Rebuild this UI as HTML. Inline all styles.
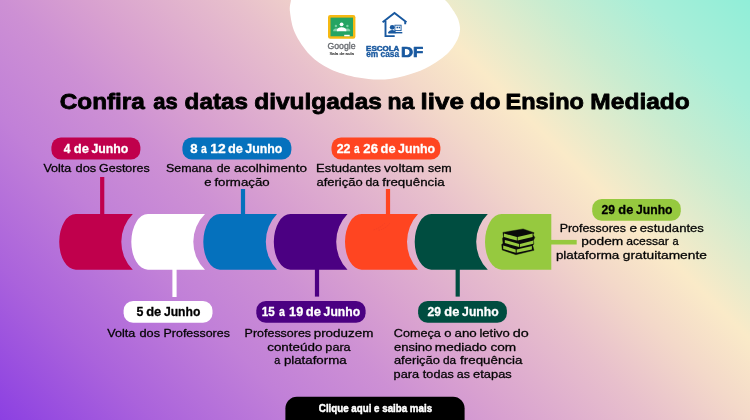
<!DOCTYPE html>
<html lang="pt-BR">
<head>
<meta charset="utf-8">
<title>Confira as datas divulgadas na live do Ensino Mediado</title>
<style>
html,body{margin:0;padding:0;}
body{width:750px;height:420px;overflow:hidden;background:#d8a0cc;}
.banner{position:relative;width:750px;height:420px;overflow:hidden;background:linear-gradient(45deg,#8c40e2 0%,#aa62dc 13%,#c180d8 26%,#cd90d4 36%,#d8a0d0 43%,#e8c0cc 56%,#f3d8c9 64%,#faeac8 71%,#c8ecd0 82.5%,#a8eed8 91%,#90eed8 100%);}
.banner svg{position:absolute;left:0;top:0;display:block;}
text{font-family:"Liberation Sans",sans-serif;white-space:pre;}
</style>
</head>
<body>
<div class="banner">
<svg width="750" height="420" viewBox="0 0 750 420">
<g id="logos">
<path d="M291 0C290.5 4.0 289.3 6.5 290 12C290.7 17.5 291.7 25.8 295 33C298.3 40.2 304.2 49.0 310 55C315.8 61.0 322.0 65.2 330 69C338.0 72.8 348.8 75.9 358 77.6C367.2 79.3 376.3 80.0 385 79.4C393.7 78.8 402.5 76.4 410 74.2C417.5 72.0 423.5 69.7 430 66C436.5 62.3 444.1 57.2 449 52C453.9 46.8 457.6 40.3 459.2 35C460.8 29.7 460.0 25.0 458.4 20C456.8 15.0 451.7 8.3 449.5 5C447.3 1.7 447.2 2.5 445 0Z" fill="#fff"/>
<g id="classroom">
<rect x="328" y="15.1" width="27.4" height="23.7" rx="2.2" fill="#f6b913"/>
<rect x="330.5" y="17.6" width="22.5" height="18.7" fill="#25a463"/>
<circle cx="335.9" cy="26" r="1.2" fill="#7fcfa6"/>
<circle cx="347.4" cy="26" r="1.2" fill="#7fcfa6"/>
<path d="M333.2 31.2v-1c0-1.1 1.8-1.7 2.7-1.7s2.7.6 2.7 1.7v1z" fill="#7fcfa6"/>
<path d="M344.7 31.2v-1c0-1.1 1.8-1.7 2.7-1.7s2.7.6 2.7 1.7v1z" fill="#7fcfa6"/>
<circle cx="341.6" cy="24.3" r="1.9" fill="#fff"/>
<path d="M336.9 31.2v-1.4c0-1.7 3.1-2.6 4.7-2.6s4.7.9 4.7 2.6v1.4z" fill="#fff"/>
<rect x="344.2" y="34.8" width="5.5" height="1.5" fill="#fff"/>
</g>
<g id="escola-em-casa" fill="#18589f">
<path d="M382.6 22.3L394.5 12.9L406.5 22.3M385.5 21v15.1h9.2M405.2 21.6v2.6" fill="none" stroke="#18589f" stroke-width="1.9" stroke-linejoin="miter"/>
<circle cx="392.2" cy="27.3" r="2.4"/>
<path d="M388.3 33.3v-.6c0-1.9 2.3-2.7 3.9-2.7s3.9.8 3.9 2.7v.6z"/>
<rect x="394.9" y="25.2" width="6.2" height="5.4" fill="none" stroke="#18589f" stroke-width="0.9"/>
<rect x="396.5" y="26.7" width="1.7" height="1.6"/>
<rect x="398.8" y="26.7" width="1.3" height="1.6"/>
<rect x="388.3" y="32" width="14" height="1.4"/>
</g>
<text x="327.41" y="48.90" font-size="8.6" font-weight="400" fill="#66696e" stroke="#66696e" stroke-width="0.3" stroke-linejoin="round" textLength="28.13" lengthAdjust="spacingAndGlyphs">Google</text>
<text x="329.45" y="55.30" font-size="4.3" font-weight="400" fill="#333" stroke="#333" stroke-width="0.15" stroke-linejoin="round" textLength="24.47" lengthAdjust="spacingAndGlyphs">Sala de aula</text>
<text x="366.07" y="50.90" font-size="6.5" font-weight="700" fill="#18589f" stroke="#18589f" stroke-width="0.45" stroke-linejoin="round" textLength="33.22" lengthAdjust="spacingAndGlyphs">ESCOLA</text>
<text x="366.22" y="56.60" font-size="8.4" font-weight="700" fill="#18589f" stroke="#18589f" stroke-width="0.3" stroke-linejoin="round" textLength="32.92" lengthAdjust="spacingAndGlyphs">em casa</text>
<text x="400.98" y="56.60" font-size="14.6" font-weight="700" fill="#18589f" stroke="#18589f" stroke-width="0.7" stroke-linejoin="round" textLength="22.33" lengthAdjust="spacingAndGlyphs">DF</text>
</g>
<g id="title">
<text y="108.60" font-size="22.3" font-weight="700" fill="#000" stroke="#000" stroke-width="0.8" stroke-linejoin="round"><tspan x="59.73" textLength="85.13" lengthAdjust="spacingAndGlyphs">Confira</tspan> <tspan x="153.24" textLength="24.49" lengthAdjust="spacingAndGlyphs">as</tspan> <tspan x="184.63" textLength="63.30" lengthAdjust="spacingAndGlyphs">datas</tspan> <tspan x="254.22" textLength="127.65" lengthAdjust="spacingAndGlyphs">divulgadas</tspan> <tspan x="387.49" textLength="26.84" lengthAdjust="spacingAndGlyphs">na</tspan> <tspan x="420.58" textLength="43.30" lengthAdjust="spacingAndGlyphs">live</tspan> <tspan x="470.10" textLength="30.54" lengthAdjust="spacingAndGlyphs">do</tspan> <tspan x="505.45" textLength="78.47" lengthAdjust="spacingAndGlyphs">Ensino</tspan> <tspan x="590.38" textLength="99.39" lengthAdjust="spacingAndGlyphs">Mediado</tspan></text>
</g>
<g id="timeline">
<rect x="100.10" y="177.0" width="4.2" height="37.50" fill="#c0004c"/>
<rect x="172.40" y="269.0" width="4.2" height="28.00" fill="#ffffff"/>
<rect x="240.90" y="189.0" width="4.2" height="25.50" fill="#0571bd"/>
<rect x="314.90" y="269.0" width="4.2" height="27.60" fill="#4b0082"/>
<rect x="385.90" y="189.0" width="4.2" height="25.50" fill="#ff4521"/>
<rect x="455.60" y="269.0" width="4.2" height="27.60" fill="#004d40"/>
<rect x="550" y="239.9" width="26.7" height="4.6" fill="#96c93f"/>
<path d="M75.80 214.0H132.80A39.47 39.47 0 0 0 132.80 269.7H75.80A16.6 27.849999999999994 0 0 1 75.80 214.0Z" fill="#c0004c"/>
<path d="M147.90 214.0H205.00A39.00 39.00 0 0 0 205.00 269.7H147.90A16.6 27.849999999999994 0 0 1 147.90 214.0Z" fill="#ffffff"/>
<path d="M219.90 214.0H277.00A40.23 40.23 0 0 0 277.00 269.7H219.90A16.6 27.849999999999994 0 0 1 219.90 214.0Z" fill="#0571bd"/>
<path d="M290.40 214.0H347.50A39.97 39.97 0 0 0 347.50 269.7H290.40A16.6 27.849999999999994 0 0 1 290.40 214.0Z" fill="#4b0082"/>
<path d="M361.60 214.0H418.00A40.76 40.76 0 0 0 418.00 269.7H361.60A16.6 27.849999999999994 0 0 1 361.60 214.0Z" fill="#ff4521"/>
<path d="M431.30 214.0H487.80A39.23 39.23 0 0 0 487.80 269.7H431.30A16.6 27.849999999999994 0 0 1 431.30 214.0Z" fill="#004d40"/>
<path d="M501.60 214.0H551.30V269.7H501.60A16.6 27.849999999999994 0 0 1 501.60 214.0Z" fill="#96c93f"/>
<path d="M373.6 229.9Q381 227.6 385.6 222.3M378.6 230.4Q386 228.6 389.6 223.4" fill="none" stroke="#e23a2e" stroke-width="0.5" stroke-dasharray="1.4 1" opacity="0.7"/>
<g id="books"><polygon points="502.9,232.4 523.1,228.9 534.1,232.7 533.1,234.8 534.8,237.4 533.5,240.3 533.8,243.9 532.7,245.6 534.0,250.3 515.9,254.7 502.2,250.0 501.7,244.6 503.0,243.2 502.5,238.4 503.5,236.8" fill="#0a0a0a" stroke="#0a0a0a" stroke-width="0.4" stroke-linejoin="round"/><polygon points="504.0,233.5 516.9,237.1 516.9,240.6 504.0,237.1" fill="#96c93f"/><polygon points="517.6,237.1 532.6,233.6 532.6,237.1 517.6,240.6" fill="#96c93f"/><polygon points="504.8,239.9 519.2,243.9 519.2,246.9 504.8,243.1" fill="#96c93f"/><polygon points="520.0,243.9 533.4,240.4 533.4,243.7 520.0,246.9" fill="#96c93f"/><polygon points="503.2,245.4 515.7,249.4 515.7,252.8 503.2,249.0" fill="#96c93f"/><polygon points="516.7,249.4 531.9,245.9 531.9,249.5 516.7,252.8" fill="#96c93f"/></g>
</g>
<g id="dates">
<rect x="51.4" y="137.5" width="89.0" height="22.0" rx="9.5" fill="#c0004c"/>
<text y="152.60" font-size="13.2" font-weight="700" fill="#fff" stroke="#fff" stroke-width="0.3" stroke-linejoin="round"><tspan x="63.81" textLength="6.72" lengthAdjust="spacingAndGlyphs">4</tspan> <tspan x="73.83" textLength="15.10" lengthAdjust="spacingAndGlyphs">de</tspan> <tspan x="91.40" textLength="36.93" lengthAdjust="spacingAndGlyphs">Junho</tspan></text>
<rect x="182.4" y="137.5" width="109.0" height="22.0" rx="9.5" fill="#0571bd"/>
<text y="152.60" font-size="13.2" font-weight="700" fill="#fff" stroke="#fff" stroke-width="0.3" stroke-linejoin="round"><tspan x="190.25" textLength="7.34" lengthAdjust="spacingAndGlyphs">8</tspan> <tspan x="200.94" textLength="5.77" lengthAdjust="spacingAndGlyphs">a</tspan> <tspan x="210.32" textLength="15.42" lengthAdjust="spacingAndGlyphs">12</tspan> <tspan x="228.04" textLength="14.88" lengthAdjust="spacingAndGlyphs">de</tspan> <tspan x="245.30" textLength="37.04" lengthAdjust="spacingAndGlyphs">Junho</tspan></text>
<rect x="331.5" y="137.5" width="108.9" height="22.0" rx="9.5" fill="#ff4521"/>
<text y="152.60" font-size="13.2" font-weight="700" fill="#fff" stroke="#fff" stroke-width="0.3" stroke-linejoin="round"><tspan x="336.68" textLength="13.80" lengthAdjust="spacingAndGlyphs">22</tspan> <tspan x="354.05" textLength="5.56" lengthAdjust="spacingAndGlyphs">a</tspan> <tspan x="363.35" textLength="14.65" lengthAdjust="spacingAndGlyphs">26</tspan> <tspan x="380.54" textLength="14.99" lengthAdjust="spacingAndGlyphs">de</tspan> <tspan x="398.10" textLength="37.04" lengthAdjust="spacingAndGlyphs">Junho</tspan></text>
<rect x="123.6" y="300.9" width="88.9" height="21.8" rx="9.5" fill="#ffffff"/>
<text y="315.70" font-size="13.2" font-weight="700" fill="#000" stroke="#000" stroke-width="0.3" stroke-linejoin="round"><tspan x="136.38" textLength="6.90" lengthAdjust="spacingAndGlyphs">5</tspan> <tspan x="146.23" textLength="15.10" lengthAdjust="spacingAndGlyphs">de</tspan> <tspan x="163.91" textLength="36.42" lengthAdjust="spacingAndGlyphs">Junho</tspan></text>
<rect x="256.3" y="300.9" width="109.3" height="21.8" rx="9.5" fill="#4b0082"/>
<text y="315.70" font-size="13.2" font-weight="700" fill="#fff" stroke="#fff" stroke-width="0.3" stroke-linejoin="round"><tspan x="261.85" textLength="12.98" lengthAdjust="spacingAndGlyphs">15</tspan> <tspan x="278.93" textLength="5.88" lengthAdjust="spacingAndGlyphs">a</tspan> <tspan x="289.09" textLength="14.10" lengthAdjust="spacingAndGlyphs">19</tspan> <tspan x="305.73" textLength="15.20" lengthAdjust="spacingAndGlyphs">de</tspan> <tspan x="323.61" textLength="36.52" lengthAdjust="spacingAndGlyphs">Junho</tspan></text>
<rect x="418.1" y="300.9" width="88.8" height="21.8" rx="9.5" fill="#004d40"/>
<text y="315.70" font-size="13.2" font-weight="700" fill="#fff" stroke="#fff" stroke-width="0.3" stroke-linejoin="round"><tspan x="427.59" textLength="13.48" lengthAdjust="spacingAndGlyphs">29</tspan> <tspan x="444.34" textLength="14.99" lengthAdjust="spacingAndGlyphs">de</tspan> <tspan x="462.11" textLength="36.52" lengthAdjust="spacingAndGlyphs">Junho</tspan></text>
<rect x="592.2" y="198.9" width="88.6" height="21.8" rx="9.5" fill="#96c93f"/>
<text y="213.80" font-size="13.2" font-weight="700" fill="#000" stroke="#000" stroke-width="0.3" stroke-linejoin="round"><tspan x="601.59" textLength="13.48" lengthAdjust="spacingAndGlyphs">29</tspan> <tspan x="618.34" textLength="14.99" lengthAdjust="spacingAndGlyphs">de</tspan> <tspan x="636.11" textLength="36.42" lengthAdjust="spacingAndGlyphs">Junho</tspan></text>
</g>
<g id="descriptions">
<text y="171.60" font-size="11.1" font-weight="400" fill="#050505" stroke="#050505" stroke-width="0.28" stroke-linejoin="round"><tspan x="43.41" textLength="27.90" lengthAdjust="spacingAndGlyphs">Volta</tspan> <tspan x="75.63" textLength="20.65" lengthAdjust="spacingAndGlyphs">dos</tspan> <tspan x="99.02" textLength="50.61" lengthAdjust="spacingAndGlyphs">Gestores</tspan></text>
<text y="171.60" font-size="11.1" font-weight="400" fill="#050505" stroke="#050505" stroke-width="0.28" stroke-linejoin="round"><tspan x="165.92" textLength="46.40" lengthAdjust="spacingAndGlyphs">Semana</tspan> <tspan x="216.65" textLength="13.74" lengthAdjust="spacingAndGlyphs">de</tspan> <tspan x="234.00" textLength="72.93" lengthAdjust="spacingAndGlyphs">acolhimento</tspan></text>
<text y="185.60" font-size="11.1" font-weight="400" fill="#050505" stroke="#050505" stroke-width="0.28" stroke-linejoin="round"><tspan x="204.22" textLength="7.24" lengthAdjust="spacingAndGlyphs">e</tspan> <tspan x="214.41" textLength="55.26" lengthAdjust="spacingAndGlyphs">formação</tspan></text>
<text y="171.60" font-size="11.1" font-weight="400" fill="#050505" stroke="#050505" stroke-width="0.28" stroke-linejoin="round"><tspan x="316.00" textLength="64.99" lengthAdjust="spacingAndGlyphs">Estudantes</tspan> <tspan x="384.00" textLength="40.15" lengthAdjust="spacingAndGlyphs">voltam</tspan> <tspan x="427.97" textLength="23.56" lengthAdjust="spacingAndGlyphs">sem</tspan></text>
<text y="185.60" font-size="11.1" font-weight="400" fill="#050505" stroke="#050505" stroke-width="0.28" stroke-linejoin="round"><tspan x="316.52" textLength="46.13" lengthAdjust="spacingAndGlyphs">aferição</tspan> <tspan x="365.45" textLength="13.64" lengthAdjust="spacingAndGlyphs">da</tspan> <tspan x="382.31" textLength="62.35" lengthAdjust="spacingAndGlyphs">frequência</tspan></text>
<text y="337.00" font-size="11.1" font-weight="400" fill="#050505" stroke="#050505" stroke-width="0.28" stroke-linejoin="round"><tspan x="107.31" textLength="28.00" lengthAdjust="spacingAndGlyphs">Volta</tspan> <tspan x="139.53" textLength="20.54" lengthAdjust="spacingAndGlyphs">dos</tspan> <tspan x="163.55" textLength="66.36" lengthAdjust="spacingAndGlyphs">Professores</tspan></text>
<text y="337.00" font-size="11.1" font-weight="400" fill="#050505" stroke="#050505" stroke-width="0.28" stroke-linejoin="round"><tspan x="244.64" textLength="66.46" lengthAdjust="spacingAndGlyphs">Professores</tspan> <tspan x="313.70" textLength="59.66" lengthAdjust="spacingAndGlyphs">produzem</tspan></text>
<text y="350.60" font-size="11.1" font-weight="400" fill="#050505" stroke="#050505" stroke-width="0.28" stroke-linejoin="round"><tspan x="267.20" textLength="55.16" lengthAdjust="spacingAndGlyphs">conteúdo</tspan> <tspan x="325.35" textLength="25.33" lengthAdjust="spacingAndGlyphs">para</tspan></text>
<text y="364.00" font-size="11.1" font-weight="400" fill="#050505" stroke="#050505" stroke-width="0.28" stroke-linejoin="round"><tspan x="274.31" textLength="6.01" lengthAdjust="spacingAndGlyphs">a</tspan> <tspan x="283.91" textLength="62.71" lengthAdjust="spacingAndGlyphs">plataforma</tspan></text>
<text y="337.00" font-size="11.1" font-weight="400" fill="#050505" stroke="#050505" stroke-width="0.28" stroke-linejoin="round"><tspan x="393.81" textLength="47.00" lengthAdjust="spacingAndGlyphs">Começa</tspan> <tspan x="444.32" textLength="7.24" lengthAdjust="spacingAndGlyphs">o</tspan> <tspan x="454.51" textLength="22.27" lengthAdjust="spacingAndGlyphs">ano</tspan> <tspan x="479.43" textLength="30.41" lengthAdjust="spacingAndGlyphs">letivo</tspan> <tspan x="512.86" textLength="16.00" lengthAdjust="spacingAndGlyphs">do</tspan></text>
<text y="350.60" font-size="11.1" font-weight="400" fill="#050505" stroke="#050505" stroke-width="0.28" stroke-linejoin="round"><tspan x="393.92" textLength="38.45" lengthAdjust="spacingAndGlyphs">ensino</tspan> <tspan x="434.89" textLength="51.99" lengthAdjust="spacingAndGlyphs">mediado</tspan> <tspan x="490.40" textLength="25.71" lengthAdjust="spacingAndGlyphs">com</tspan></text>
<text y="364.00" font-size="11.1" font-weight="400" fill="#050505" stroke="#050505" stroke-width="0.28" stroke-linejoin="round"><tspan x="393.92" textLength="46.02" lengthAdjust="spacingAndGlyphs">aferição</tspan> <tspan x="443.07" textLength="13.12" lengthAdjust="spacingAndGlyphs">da</tspan> <tspan x="460.11" textLength="62.25" lengthAdjust="spacingAndGlyphs">frequência</tspan></text>
<text y="377.60" font-size="11.1" font-weight="400" fill="#050505" stroke="#050505" stroke-width="0.28" stroke-linejoin="round"><tspan x="393.55" textLength="25.53" lengthAdjust="spacingAndGlyphs">para</tspan> <tspan x="422.89" textLength="30.83" lengthAdjust="spacingAndGlyphs">todas</tspan> <tspan x="456.84" textLength="13.17" lengthAdjust="spacingAndGlyphs">as</tspan> <tspan x="473.13" textLength="38.65" lengthAdjust="spacingAndGlyphs">etapas</tspan></text>
<text y="232.00" font-size="11.1" font-weight="400" fill="#050505" stroke="#050505" stroke-width="0.28" stroke-linejoin="round"><tspan x="559.65" textLength="66.36" lengthAdjust="spacingAndGlyphs">Professores</tspan> <tspan x="629.49" textLength="7.60" lengthAdjust="spacingAndGlyphs">e</tspan> <tspan x="639.82" textLength="64.07" lengthAdjust="spacingAndGlyphs">estudantes</tspan></text>
<text y="245.40" font-size="11.1" font-weight="400" fill="#050505" stroke="#050505" stroke-width="0.28" stroke-linejoin="round"><tspan x="581.28" textLength="42.01" lengthAdjust="spacingAndGlyphs">podem</tspan> <tspan x="626.25" textLength="42.67" lengthAdjust="spacingAndGlyphs">acessar</tspan> <tspan x="672.40" textLength="6.12" lengthAdjust="spacingAndGlyphs">a</tspan></text>
<text y="258.90" font-size="11.1" font-weight="400" fill="#050505" stroke="#050505" stroke-width="0.28" stroke-linejoin="round"><tspan x="555.90" textLength="63.42" lengthAdjust="spacingAndGlyphs">plataforma</tspan> <tspan x="622.89" textLength="83.99" lengthAdjust="spacingAndGlyphs">gratuitamente</tspan></text>
</g>
<g id="cta">
<path d="M285.4 420V408.3a11.5 11.5 0 0 1 11.5-11.5H453.1a11.5 11.5 0 0 1 11.5 11.5V420Z" fill="#000"/>
<text x="318.86" y="412.20" font-size="11.8" font-weight="700" fill="#fff" stroke="#fff" stroke-width="0.5" stroke-linejoin="round" textLength="113.23" lengthAdjust="spacingAndGlyphs">Clique aqui e saiba mais</text>
</g>
</svg>
</div>
</body>
</html>
